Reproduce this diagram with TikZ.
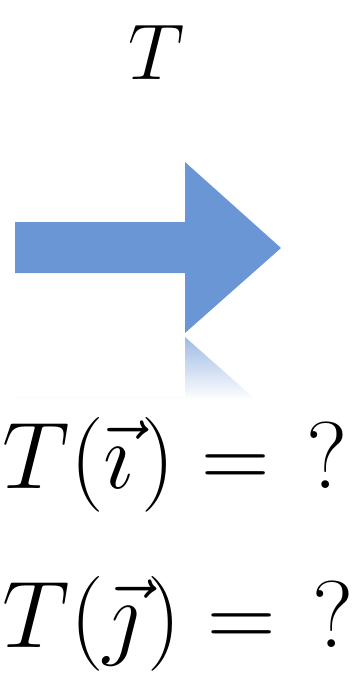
\documentclass[tikz,border=0pt]{standalone}
\usetikzlibrary{fadings}
\definecolor{arrowblue}{RGB}{106,150,214}
\tikzset{
  map arrow/.style={fill=arrowblue,draw=none},
  map reflection/.style={top color=arrowblue!65,bottom color=white,draw=none},
  title label/.style={font=\Huge,scale=1.81,inner sep=0pt,anchor=base},
  eq label/.style={font=\Huge,scale=2.17,inner sep=0pt,anchor=base west},
}
\begin{document}
\begin{tikzpicture}[x=0.02cm,y=-0.02cm]
\useasboundingbox (0,0) rectangle (361,679);
\node[title label] (title) at (157,80) {$T$};
\fill[map arrow] (15,222) -- (185,222) -- (185,162) -- (281,248) -- (185,333) -- (185,273) -- (15,273) -- cycle;
\begin{scope}
\clip (15,448) -- (185,448) -- (185,508) -- (281,422) -- (185,337) -- (185,397) -- (15,397) -- cycle;
\shade[map reflection] (0,337) rectangle (361,400);
\end{scope}
\node[eq label] (imgi) at (2,488) {$T(\vec{\imath}\mkern1.5mu) = \mkern7mu?$};
\node[eq label] (imgj) at (2,647) {$T(\vec{\jmath}\mkern1.5mu) = \mkern7mu?$};
\end{tikzpicture}
\end{document}
